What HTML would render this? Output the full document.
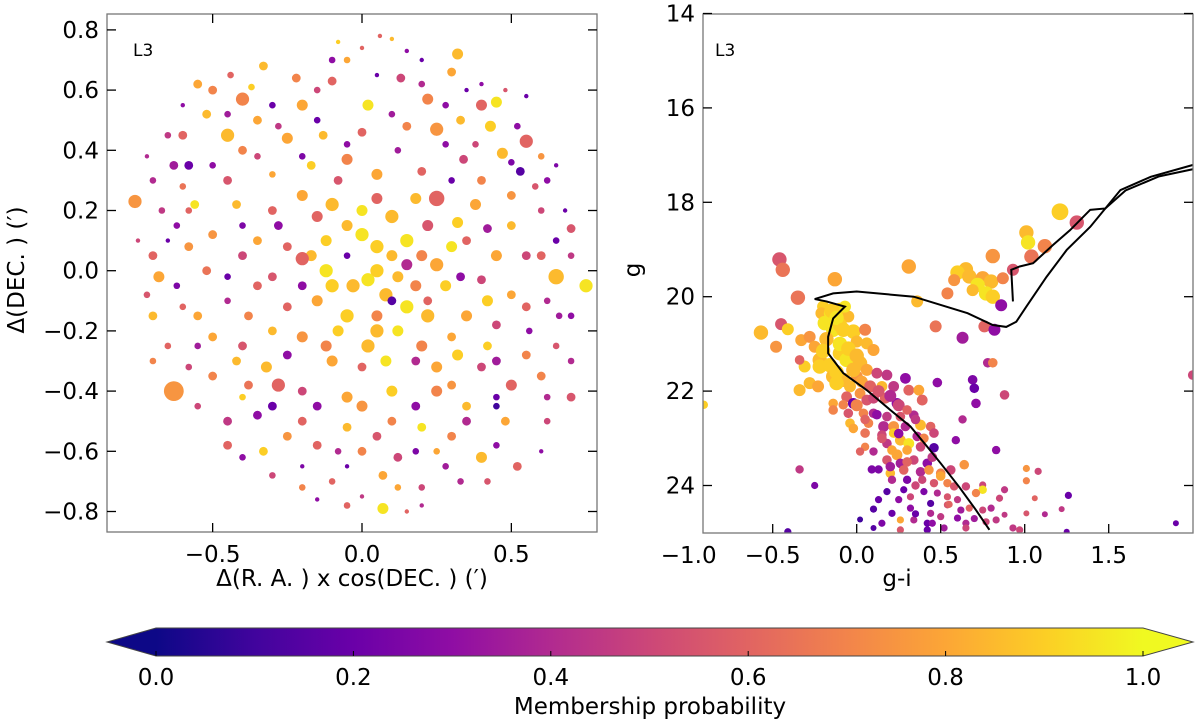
<!DOCTYPE html>
<html><head><meta charset="utf-8"><style>
body{margin:0;background:#fff;}
svg{display:block;font-family:"DejaVu Sans","Liberation Sans",sans-serif;}
</style></head><body>
<svg id="fig" width="1200" height="722" viewBox="0 0 1200 722">
<defs>
<linearGradient id="plasma" x1="0" x2="1" y1="0" y2="0">
<stop offset="0" stop-color="#0d0887"/><stop offset="0.1" stop-color="#41049d"/><stop offset="0.2" stop-color="#6a00a8"/><stop offset="0.3" stop-color="#8f0da4"/><stop offset="0.4" stop-color="#b12a90"/><stop offset="0.5" stop-color="#cc4778"/><stop offset="0.6" stop-color="#e16462"/><stop offset="0.7" stop-color="#f2844b"/><stop offset="0.8" stop-color="#fca636"/><stop offset="0.9" stop-color="#fcce25"/><stop offset="1" stop-color="#f0f921"/>
</linearGradient>
<clipPath id="clipL"><rect x="107" y="14" width="490" height="518"/></clipPath>
<clipPath id="clipR"><rect x="703" y="14" width="490" height="519"/></clipPath>
</defs>
<g id="left"></g>
<g id="right"></g>
<g id="cbar"></g>
</svg>
<script>
// ---- Left panel data: x offset, y offset, probability, marker radius ----
const posX=[0.1,-0.08,0.0,0.32,0.06,-0.33,-0.22,-0.44,-0.55,-0.37,-0.1,0.13,0.3,0.4,0.45,0.4,0.55,0.22,0.02,-0.2,-0.4,-0.45,-0.52,-0.6,-0.45,-0.35,-0.25,-0.13,0.0,0.15,0.25,0.43,0.55,0.62,0.5,0.47,0.34,0.12,-0.05,-0.17,-0.3,-0.45,-0.63,-0.72,-0.58,-0.56,-0.76,-0.67,-0.42,-0.3,-0.2,-0.1,0.05,0.18,0.25,0.38,0.5,0.6,0.7,0.68,
-0.7,-0.58,-0.52,-0.68,-0.4,-0.35,-0.25,-0.17,-0.12,-0.05,0.0,0.05,0.1,0.15,0.2,0.25,0.3,0.35,0.45,0.55,0.65,0.75,-0.2,-0.3,-0.1,-0.03,0.02,0.08,0.12,0.18,0.28,0.4,0.5,0.62,-0.45,-0.6,-0.7,-0.25,-0.15,-0.05,0.05,0.15,0.22,0.35,0.45,0.56,0.66,
-0.65,-0.5,-0.4,-0.3,-0.2,-0.08,0.02,0.12,0.2,0.3,0.42,0.55,0.7,-0.58,-0.5,-0.32,-0.1,0.0,0.08,0.25,0.4,0.6,-0.63,-0.4,-0.28,-0.2,-0.05,0.1,0.25,0.35,0.5,0.7,-0.45,-0.35,-0.2,-0.05,0.1,0.2,0.35,0.48,0.62,-0.45,-0.33,-0.15,0.0,0.12,0.25,0.4,0.52,-0.3,-0.1,0.07,0.2,0.33,0.07,-0.05,0.2,-0.15,
-0.58,0.53,-0.1,0.2,-0.3,0.1,-0.05,0.3,-0.4,0.45,0.65,-0.2,0.28,-0.65,0.6,
-0.6,-0.5,-0.3,-0.15,0.05,0.2,0.35,0.48,-0.05,0.15,-0.7,-0.6,-0.5,-0.4,-0.2,-0.08,0.05,0.2,0.28,0.4,0.58,0.65,
-0.75,-0.62,-0.5,-0.45,-0.35,-0.28,-0.15,0.0,0.1,0.22,0.32,0.42,0.5,0.6,0.7,-0.72,-0.62,-0.55,-0.38,-0.2,-0.12,0.05,0.15,0.22,0.33,0.42,0.55,0.7,
-0.7,-0.55,-0.42,-0.25,-0.12,0.05,0.18,0.32,0.45,0.65,-0.55,-0.38,-0.15,0.0,0.18,0.3,0.45,0.62,
-0.4,-0.25,-0.08,0.05,0.18,0.3,0.45,-0.2,-0.05,0.12,0.28,0.42,0.0,0.15,-0.35,-0.28,0.1,0.33,0.52,-0.65,-0.15,0.6,-0.05,0.38];
const posY=[0.77,0.76,0.74,0.72,0.78,0.68,0.64,0.65,0.62,0.61,0.63,0.64,0.66,0.62,0.56,0.55,0.58,0.57,0.55,0.55,0.57,0.52,0.52,0.45,0.45,0.38,0.44,0.45,0.46,0.48,0.47,0.48,0.43,0.3,0.36,0.39,0.37,0.4,0.37,0.35,0.32,0.3,0.35,0.38,0.2,0.22,0.23,0.2,0.22,0.2,0.25,0.22,0.24,0.24,0.24,0.22,0.25,0.2,0.14,0.2,
0.05,0.08,0.0,-0.02,0.05,0.1,0.08,0.05,0.1,0.15,0.12,0.08,0.05,0.1,0.05,0.02,0.08,0.1,0.05,0.05,-0.02,-0.05,0.04,-0.02,-0.05,-0.05,-0.03,-0.08,-0.02,-0.05,-0.05,-0.03,-0.08,-0.1,-0.1,-0.12,-0.15,-0.12,-0.1,-0.15,-0.15,-0.12,-0.1,-0.15,-0.18,-0.2,-0.15,
-0.25,-0.22,-0.25,-0.2,-0.22,-0.2,-0.25,-0.2,-0.25,-0.22,-0.25,-0.28,-0.3,-0.32,-0.35,-0.32,-0.3,-0.32,-0.3,-0.32,-0.32,-0.35,-0.4,-0.42,-0.38,-0.4,-0.42,-0.4,-0.4,-0.45,-0.38,-0.42,-0.5,-0.48,-0.5,-0.52,-0.5,-0.52,-0.5,-0.5,-0.5,-0.58,-0.6,-0.58,-0.6,-0.62,-0.6,-0.62,-0.65,-0.68,-0.7,-0.68,-0.72,-0.7,-0.79,-0.78,-0.78,-0.76,
0.35,0.33,0.7,0.7,-0.45,-0.1,0.05,0.3,0.15,-0.45,0.1,-0.65,0.55,0.1,-0.6,
0.55,0.6,0.55,0.6,0.65,0.62,0.6,0.6,0.7,0.73,0.3,0.28,0.35,0.4,0.38,0.3,0.32,0.33,0.42,0.3,0.28,0.35,
0.1,0.15,0.12,-0.02,-0.05,0.15,0.18,0.2,0.18,0.15,0.16,0.14,0.15,0.05,0.05,-0.08,-0.05,-0.15,-0.15,-0.05,0.0,0.0,0.02,-0.15,-0.02,-0.1,-0.12,-0.15,
-0.3,-0.25,-0.3,-0.28,-0.25,-0.2,-0.3,-0.28,-0.3,-0.25,-0.45,-0.38,-0.45,-0.45,-0.45,-0.38,-0.42,-0.42,
-0.62,-0.55,-0.6,-0.55,-0.6,-0.55,-0.58,-0.72,-0.65,-0.72,-0.65,-0.7,-0.75,-0.8,0.5,0.48,0.52,0.5,0.48,0.45,0.5,0.38,0.42,0.42];
const probL=[0.85,0.9,0.6,0.85,0.6,0.85,0.7,0.6,0.8,0.9,0.6,0.5,0.8,0.3,0.95,0.6,0.2,0.7,0.95,0.8,0.7,0.35,0.85,0.6,0.85,0.5,0.8,0.85,0.6,0.7,0.75,0.9,0.6,0.3,0.25,0.85,0.5,0.35,0.7,0.9,0.8,0.55,0.35,0.4,0.6,0.95,0.75,0.45,0.85,0.6,0.8,0.85,0.6,0.85,0.6,0.8,0.75,0.5,0.55,0.2,
0.6,0.75,0.65,0.8,0.5,0.8,0.6,0.85,0.9,0.85,0.95,0.9,0.85,0.95,0.7,0.8,0.95,0.6,0.8,0.5,0.85,0.95,0.6,0.55,0.9,0.85,0.95,0.85,0.85,0.7,0.9,0.5,0.8,0.4,0.4,0.6,0.85,0.6,0.8,0.9,0.7,0.95,0.6,0.8,0.5,0.3,0.35,
0.6,0.8,0.55,0.85,0.75,0.9,0.85,0.95,0.7,0.8,0.9,0.7,0.4,0.5,0.7,0.85,0.8,0.6,0.95,0.8,0.5,0.7,0.75,0.9,0.6,0.5,0.8,0.9,0.7,0.85,0.6,0.55,0.45,0.3,0.6,0.85,0.7,0.95,0.4,0.8,0.5,0.6,0.9,0.6,0.7,0.5,0.8,0.85,0.6,0.5,0.6,0.8,0.5,0.4,0.95,0.6,0.4,0.3,
0.2,0.15,0.3,0.2,0.2,0.15,0.2,0.2,0.25,0.1,0.2,0.25,0.3,0.2,0.3,
0.3,0.7,0.2,0.5,0.2,0.4,0.2,0.55,0.8,0.3,0.4,0.65,0.3,0.7,0.25,0.55,0.8,0.6,0.3,0.7,0.55,0.25,
0.5,0.3,0.75,0.2,0.6,0.3,0.6,0.95,0.85,0.55,0.9,0.35,0.85,0.6,0.45,0.55,0.25,0.8,0.7,0.3,0.95,0.9,0.4,0.85,0.3,0.9,0.6,0.3,
0.7,0.35,0.85,0.3,0.7,0.85,0.4,0.9,0.35,0.55,0.5,0.65,0.3,0.75,0.3,0.75,0.2,0.4,
0.3,0.75,0.4,0.55,0.25,0.7,0.3,0.7,0.2,0.8,0.35,0.55,0.45,0.6,0.8,0.45,0.35,0.85,0.3,0.45,0.2,0.75,0.3,0.5];
const sizeL=[2,2,2,5,2,4,4,3,4,3,4,4,4,2,5,5,2,5,5,5,6,3,4,4,6,3,5,4,4,4,6,5,6,3,3,5,4,3,5,4,3,4,4,2,3,4,6,3,4,4,5,6,5,5,7,5,4,3,4,2,
4,4,4,5,4,4,4,5,5,5,6,6,5,6,5,6,5,4,5,4,7,6,6,4,6,6,6,6,5,5,5,4,4,3,3,3,4,4,5,6,5,6,4,5,4,3,3,
3,4,4,4,5,5,6,5,5,4,4,4,3,3,4,5,5,4,5,5,4,4,9,3,6,4,5,5,5,4,5,4,4,4,4,4,4,4,4,4,3,4,4,4,4,4,3,5,4,3,3,4,3,3,5,3,2,2,
4,4,3,2,4,4,3,3,3,3,3,2,3,2,2,
2,4,3,3,2,3,2,2,3,2,3,3,3,4,3,4,5,4,3,4,3,2,
2,3,4,3,4,4,5,5,6,5,5,4,4,4,3,3,3,4,4,4,6,6,5,6,4,5,4,3,
3,3,4,4,5,6,4,5,4,3,3,4,4,5,4,4,3,3,
3,4,3,4,3,4,3,3,2,3,3,3,2,2,4,3,3,4,3,3,3,3,3,3];
const ticksLX=[-0.5,0.0,0.5];
const ticksLY=[-0.8,-0.6,-0.4,-0.2,0.0,0.2,0.4,0.6,0.8];

// ---- Right panel (CMD) data: colour g-i, magnitude g, probability, radius ----
const gi=[1.21,1.31,1.01,1.02,1.12,1.04,0.81,0.93,0.65,0.6,0.58,0.67,0.75,0.8,0.72,0.69,0.77,0.81,0.87,0.86,0.54,0.31,0.36,0.47,0.63,0.76,0.82,0.78,0.81,0.88,0.69,0.7,0.71,0.48,0.63,0.59,0.83,1.01,1.08,1.01,1.26,1.22,1.06,1.9,2.0,
-0.46,-0.44,-0.13,-0.35,-0.45,-0.57,-0.41,-0.48,-0.34,-0.31,-0.34,-0.25,-0.91,
-0.2,-0.21,-0.16,-0.1,-0.05,-0.07,-0.19,-0.14,-0.1,-0.02,0.05,0.0,0.06,0.1,-0.33,-0.28,-0.25,-0.22,-0.22,-0.16,-0.1,-0.06,0.02,0.06,-0.34,-0.14,-0.08,-0.12,-0.04,0.0,-0.28,-0.23,0.12,0.18,0.29,0.22,0.15,-0.06,-0.02,0.02,0.06,0.1,0.17,0.24,0.31,0.37,0.39,-0.14,-0.14,-0.08,-0.05,0.04,0.1,0.18,0.26,0.34,-0.04,0.07,0.16,0.22,0.29,0.38,0.44,-0.02,0.05,0.15,0.22,0.26,0.31,0.36,0.46,0.18,0.21,0.24,0.3,0.38,0.46,0.05,0.02,0.1,0.18,0.26,0.34,0.42,0.09,0.13,0.2,0.28,0.38,0.43,0.5,0.56,0.64,0.21,0.3,0.39,0.46,0.54,0.58,0.65,0.75,0.75,0.71,0.88,0.18,0.28,0.32,0.4,0.48,0.54,0.6,0.13,0.1,0.21,0.32,0.44,0.44,0.54,0.62,0.67,0.75,0.8,0.85,1.01,1.12,0.88,0.02,0.26,0.34,0.42,0.5,0.6,0.65,0.77,0.83,0.1,0.26,0.42,0.52,0.93,0.97,1.25,-0.41,
-0.15,-0.12,-0.08,-0.18,-0.1,-0.05,0.0,-0.2,-0.12,-0.02,0.03,0.08,0.13,0.2,0.25,0.0,0.05,0.12,0.3,0.35,0.15,0.25,0.4,0.45,0.3,0.2,0.5,0.35,0.25,0.55,0.45,0.65,0.35,0.7,0.15];
const gmag=[18.2,18.43,18.64,18.85,18.93,19.15,19.14,19.43,19.42,19.49,19.65,19.57,19.61,19.68,19.75,19.86,19.93,20.0,19.61,20.18,19.93,19.36,20.1,20.63,20.87,20.63,20.7,21.4,21.4,22.08,21.76,21.94,22.26,21.82,22.6,23.04,23.25,23.64,23.7,23.9,24.21,24.5,24.27,24.8,21.66,
19.21,19.43,19.63,20.02,20.58,20.76,20.69,21.06,21.98,21.48,23.66,24.0,22.29,
20.21,20.35,20.35,20.28,20.42,20.21,20.56,20.7,20.6,20.74,20.7,20.95,20.99,21.13,20.92,20.85,21.06,21.34,21.48,21.45,21.2,21.34,21.41,21.55,21.34,21.69,21.76,21.83,21.9,21.69,21.83,21.9,21.62,21.66,21.73,21.9,21.9,22.12,22.26,22.05,22.19,22.15,22.15,22.26,21.98,21.98,22.19,22.26,22.4,22.29,22.47,22.47,22.47,22.54,22.54,22.51,22.68,22.68,22.75,22.75,22.75,22.72,22.75,22.79,22.89,22.93,22.89,23.04,23.11,22.96,22.89,23.11,23.25,23.35,23.25,23.18,23.2,23.18,23.28,23.28,23.46,23.53,23.46,23.53,23.66,23.66,23.74,23.67,23.71,23.67,23.74,23.67,23.56,23.88,23.88,23.88,23.95,23.95,24.02,24.02,23.99,24.09,24.16,24.09,24.13,24.09,24.24,24.13,24.16,24.24,24.3,24.3,24.5,24.59,24.48,24.38,24.59,24.41,24.52,24.48,24.52,24.48,24.27,24.59,24.61,24.62,24.72,24.73,24.73,24.8,24.66,24.69,24.8,24.77,24.73,24.9,24.94,24.94,24.9,24.9,24.94,24.98,24.98,
20.3,20.45,20.7,20.9,21.0,21.1,21.25,21.15,21.6,21.55,21.8,21.9,22.0,22.1,22.3,22.3,22.6,22.5,22.4,22.6,23.0,22.9,23.0,23.4,23.5,23.6,23.8,24.0,24.3,24.4,24.8,24.9,24.6,24.7,24.8];
const probR=[0.9,0.55,0.85,0.95,0.7,0.65,0.75,0.55,0.85,0.9,0.75,0.85,0.8,0.85,0.95,0.85,0.95,0.9,0.7,0.3,0.7,0.8,0.85,0.65,0.35,0.6,0.3,0.4,0.7,0.5,0.25,0.2,0.3,0.3,0.4,0.3,0.3,0.75,0.5,0.7,0.2,0.45,0.6,0.2,0.5,
0.55,0.65,0.8,0.65,0.55,0.85,0.9,0.75,0.85,0.9,0.45,0.25,0.9,
0.9,0.85,0.95,0.9,0.85,0.95,0.95,0.95,0.9,0.9,0.7,0.85,0.85,0.8,0.8,0.75,0.8,0.85,0.9,0.9,0.9,0.95,0.85,0.8,0.6,0.85,0.85,0.9,0.85,0.75,0.85,0.8,0.5,0.45,0.3,0.45,0.85,0.6,0.2,0.75,0.55,0.5,0.6,0.3,0.6,0.8,0.6,0.8,0.7,0.7,0.55,0.7,0.4,0.45,0.55,0.4,0.85,0.7,0.4,0.75,0.4,0.85,0.6,0.8,0.65,0.5,0.9,0.85,0.95,0.4,0.5,0.45,0.8,0.8,0.8,0.5,0.15,0.7,0.6,0.4,0.55,0.35,0.5,0.3,0.25,0.25,0.85,0.6,0.4,0.75,0.7,0.5,0.75,0.4,0.25,0.5,0.55,0.7,0.55,0.5,0.5,0.95,0.7,0.45,0.15,0.2,0.5,0.25,0.4,0.55,0.45,0.2,0.15,0.2,0.3,0.15,0.4,0.55,0.35,0.6,0.5,0.4,0.5,0.55,0.4,0.45,0.1,0.8,0.4,0.2,0.45,0.3,0.4,0.5,0.45,0.15,0.55,0.2,0.35,0.45,0.5,0.2,0.15,
0.9,0.95,0.9,0.85,0.95,0.9,0.85,0.9,0.9,0.85,0.8,0.6,0.55,0.4,0.5,0.7,0.6,0.3,0.6,0.45,0.55,0.3,0.7,0.45,0.6,0.35,0.8,0.5,0.3,0.6,0.3,0.5,0.2,0.35,0.25];
const sizeR=[7,6,6,6,6,6,6,5,6,6,5,6,6,6,6,5,6,6,5,5,5,6,5,5,5,5,5,4,4,4,4,4,4,4,3.5,3.5,3.5,3,3,3,3,2.5,2.5,2.5,4,
6,6,6,6,5,6,5,5,5,5,3.5,3,3.5,
5,5,5,6,5,5,6,6,6,6,5,5,5,5,5,5,5,6,6,6,6,6,6,5,4,6,6,6,5,5,5,5,4.5,4.5,4.5,4.5,4.5,4.5,4.5,4.5,4.5,4.5,4.5,4.5,4.5,4.5,4.5,4,4,4,4,4,4,4,4,4,4,4,4.5,4.5,4,4.5,4,4,4,4,4,4.5,4.5,4,4,4,4,4.5,4,4,4,3.5,3.5,3.5,4,4,4,4,3.5,3.5,4,4,4,4,4,4,4,3.5,3.5,3.5,3.5,3.5,3.5,3.5,3,3.5,3.5,3,3,3,3,3,3,3,3,3,3,3,3,3,3,3,3,3,3,3,3,2.5,2.5,2.5,2.5,3,3,3,3,3,3,3,3,2.5,3,3,3,3,3,2.5,3,
6,6,6,6,6,6,6,6,6,6,5,5,5,5,5,5,4,4,4,4,4,4,4,4,4,4,4,3.5,3,3,3,3,3,3,3];
// isochrone (main sequence -> turnoff -> subgiant -> RGB)
const isoGI=[0.79,0.71,0.61,0.5,0.42,0.32,0.2,0.06,-0.08,-0.17,-0.17,-0.14,-0.07,-0.18,-0.25,-0.14,0.0,0.34,0.66,0.81,0.89,0.95,1.01,1.13,1.25,1.39,1.57,1.75,2.0];
const isoG=[24.94,24.52,24.03,23.53,23.18,22.75,22.4,21.98,21.62,21.2,20.85,20.46,20.21,20.1,20.05,19.93,19.89,20.0,20.35,20.6,20.64,20.53,20.21,19.58,19.01,18.52,17.74,17.46,17.21];
// horizontal branch / AGB sequence
const hbGI=[0.93,0.92,0.97,1.05,1.17,1.27,1.39,1.48,1.6,1.8,2.0];
const hbG=[20.1,19.43,19.36,19.29,18.9,18.59,18.16,18.13,17.75,17.45,17.3];
const ticksRX=[-1.0,-0.5,0.0,0.5,1.0,1.5];
const ticksRY=[14,16,18,20,22,24];
// colorbar
const cbTicks=[0.0,0.2,0.4,0.6,0.8,1.0];

const NS='http://www.w3.org/2000/svg';
const FS=23;
function mk(parent,tag,attrs){const e=document.createElementNS(NS,tag);for(const k in attrs)e.setAttribute(k,attrs[k]);parent.appendChild(e);return e;}
const stops=[[13,8,135],[65,4,157],[106,0,168],[143,13,164],[177,42,144],[204,71,120],[225,100,98],[242,132,75],[252,166,54],[252,206,37],[240,249,33]];
function plasma(t){t=Math.max(0,Math.min(1,t));const f=t*10,i=Math.min(9,Math.floor(f)),u=f-i;const a=stops[i],b=stops[i+1];return 'rgb('+a.map((v,k)=>Math.round(v+(b[k]-v)*u)).join(',')+')';}
function fmt(v){return (v<0?'\u2212':'')+Math.abs(v).toFixed(1);}

// ---------- LEFT PANEL ----------
const L=document.getElementById('left');
const lx0=107,lx1=597,ly0=14,ly1=532;
const xL=v=>362+v*298.7, yL=v=>270.7-v*301;
const lpts=mk(L,'g',{'clip-path':'url(#clipL)'});


for(let i=0;i<posX.length;i++){
  const c=mk(lpts,'circle',{cx:xL(posX[i]),cy:yL(posY[i]),r:sizeL[i]*1.1,fill:plasma(probL[i])});
  
  
}
const lf=mk(L,'rect',{x:lx0,y:ly0,width:lx1-lx0,height:ly1-ly0,fill:'none',stroke:'#777','stroke-width':1.3});


ticksLX.forEach(v=>{const x=xL(v);
  mk(L,'line',{x1:x,x2:x,y1:ly1,y2:ly1-9,stroke:'#000','stroke-width':1.3});
  mk(L,'line',{x1:x,x2:x,y1:ly0,y2:ly0+9,stroke:'#000','stroke-width':1.3});
  const t=mk(L,'text',{x:x,y:ly1+30,'font-size':FS,'text-anchor':'middle'});t.textContent=fmt(v);
  
  
});
ticksLY.forEach(v=>{const y=yL(v);
  mk(L,'line',{x1:lx0,x2:lx0+9,y1:y,y2:y,stroke:'#000','stroke-width':1.3});
  mk(L,'line',{x1:lx1,x2:lx1-9,y1:y,y2:y,stroke:'#000','stroke-width':1.3});
  const t=mk(L,'text',{x:lx0-8,y:y+8,'font-size':FS,'text-anchor':'end'});t.textContent=fmt(v);
  
  
});
let t=mk(L,'text',{x:133,y:56,'font-size':17});t.textContent='L3';


t=mk(L,'text',{x:352,y:586,'font-size':FS,'text-anchor':'middle'});t.textContent='\u0394(R. A. ) x cos(DEC. ) (\u2032)';


t=mk(L,'text',{x:0,y:0,'font-size':FS,'text-anchor':'middle',transform:'translate(24,270) rotate(-90)'});t.textContent='\u0394(DEC. ) (\u2032)';



// ---------- RIGHT PANEL ----------
const R=document.getElementById('right');
const rx0=703,rx1=1193,ry0=14,ry1=533;
const xR=v=>856.7+v*168, yR=v=>202.3+(v-18)*47.2;
const rpts=mk(R,'g',{'clip-path':'url(#clipR)'});


for(let i=0;i<gi.length;i++){
  const c=mk(rpts,'circle',{cx:xR(gi[i]),cy:yR(gmag[i]),r:sizeR[i]*1.2,fill:plasma(probR[i])});
  
  
}
let iso=mk(rpts,'polyline',{points:isoGI.map((v,i)=>xR(v)+','+yR(isoG[i])).join(' '),fill:'none',stroke:'#000','stroke-width':2});


let hb=mk(rpts,'polyline',{points:hbGI.map((v,i)=>xR(v)+','+yR(hbG[i])).join(' '),fill:'none',stroke:'#000','stroke-width':2});


const rf=mk(R,'rect',{x:rx0,y:ry0,width:rx1-rx0,height:ry1-ry0,fill:'none',stroke:'#777','stroke-width':1.3});


ticksRX.forEach(v=>{const x=xR(v);
  if(x>=rx0-1){mk(R,'line',{x1:x,x2:x,y1:ry1,y2:ry1-9,stroke:'#000','stroke-width':1.3});}
  const t=mk(R,'text',{x:x,y:ry1+30,'font-size':FS,'text-anchor':'middle'});t.textContent=fmt(v);
  
  
});
ticksRY.forEach(v=>{const y=yR(v);
  mk(R,'line',{x1:rx0,x2:rx0+9,y1:y,y2:y,stroke:'#000','stroke-width':1.3});
  mk(R,'line',{x1:rx1,x2:rx1-9,y1:y,y2:y,stroke:'#000','stroke-width':1.3});
  const t=mk(R,'text',{x:rx0-8,y:y+8,'font-size':FS,'text-anchor':'end'});t.textContent=String(v);
  
  
});
t=mk(R,'text',{x:715,y:56,'font-size':17});t.textContent='L3';


t=mk(R,'text',{x:897,y:586,'font-size':FS,'text-anchor':'middle'});t.textContent='g-i';


t=mk(R,'text',{x:0,y:0,'font-size':FS,'text-anchor':'middle',transform:'translate(640,270) rotate(-90)'});t.textContent='g';



// ---------- COLORBAR ----------
const C=document.getElementById('cbar');
const cx0=156,cx1=1143,cy0=628,cy1=656,cxv=v=>cx0+v*(cx1-cx0);
let e=mk(C,'polygon',{points:`${cx0},${cy0} 107,${(cy0+cy1)/2} ${cx0},${cy1}`,fill:'#0d0887'});


e=mk(C,'polygon',{points:`${cx1},${cy0} 1193,${(cy0+cy1)/2} ${cx1},${cy1}`,fill:'#f0f921'});


e=mk(C,'rect',{x:cx0,y:cy0,width:cx1-cx0,height:cy1-cy0,fill:'url(#plasma)'});


mk(C,'polygon',{points:`${cx0},${cy0} ${cx1},${cy0} 1193,${(cy0+cy1)/2} ${cx1},${cy1} ${cx0},${cy1} 107,${(cy0+cy1)/2}`,fill:'none',stroke:'#444','stroke-width':1});
cbTicks.forEach(v=>{const x=cxv(v);
  mk(C,'line',{x1:x,x2:x,y1:cy1,y2:cy1-5,stroke:'#000','stroke-width':1});
  const t=mk(C,'text',{x:x,y:cy1+29,'font-size':FS,'text-anchor':'middle'});t.textContent=v.toFixed(1);
  
  
});
t=mk(C,'text',{x:650,y:714,'font-size':FS,'text-anchor':'middle'});t.textContent='Membership probability';


</script>
</body></html>
